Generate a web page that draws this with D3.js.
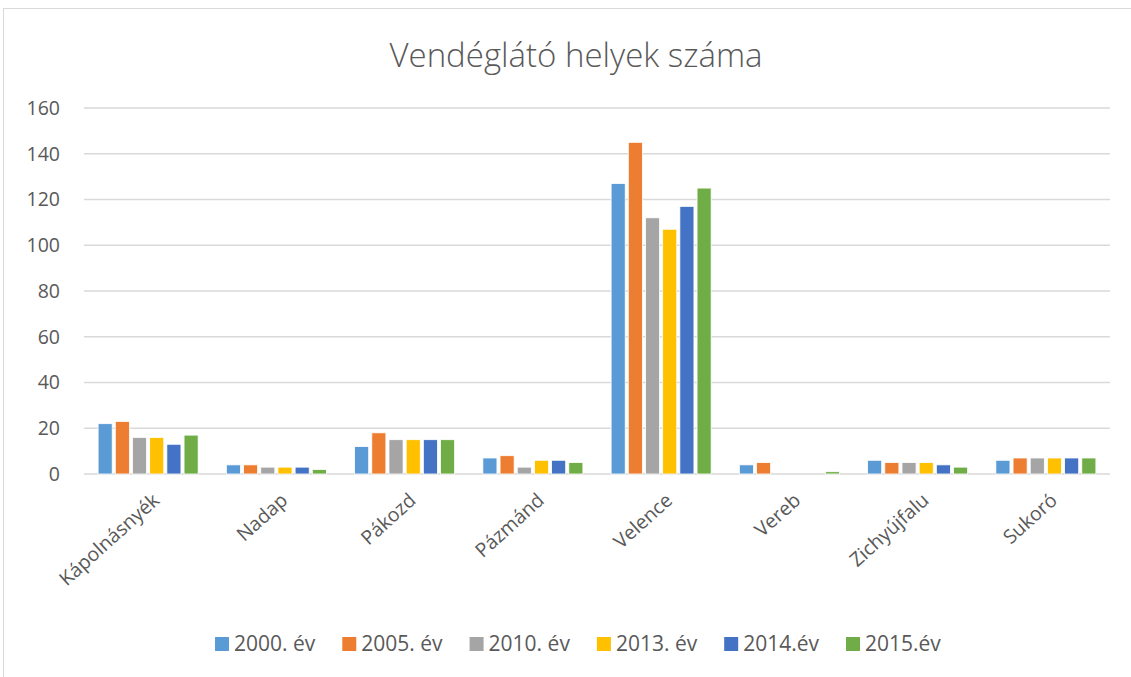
<!DOCTYPE html>
<html><head><meta charset="utf-8">
<script src="https://cdn.jsdelivr.net/npm/d3@7"></script>
<style>body{margin:0;background:#fff;}svg{display:block;font-family:"Open Sans","Liberation Sans",sans-serif;}</style>
</head><body>
<svg id="c" width="1131" height="677"></svg>
<script>
const categories = ["Kápolnásnyék","Nadap","Pákozd","Pázmánd","Velence","Vereb","Zichyújfalu","Sukoró"];
const seriesNames = ["2000. év","2005. év","2010. év","2013. év","2014.év","2015.év"];
const colors = ["#5b9bd5","#ed7d31","#a5a5a5","#ffc000","#4472c4","#70ad47"];
const v2000 = [22,4,12,7,127,4,6,6];
const v2005 = [23,4,18,8,145,5,5,7];
const v2010 = [16,3,15,3,112,0,5,7];
const v2013 = [16,3,15,6,107,0,5,7];
const v2014 = [13,3,15,6,117,0,4,7];
const v2015 = [17,2,15,5,125,1,3,7];
const seriesValues = [v2000,v2005,v2010,v2013,v2014,v2015];
const yTicks = [0,20,40,60,80,100,120,140,160];

(function(){
const svg = d3.select("#c");
svg.append("rect").attr("x",3.5).attr("y",8.5).attr("width",1140).attr("height",700)
  .attr("fill","#fff").attr("stroke","#d9d9d9");

const pLeft=84,pRight=1110,pTop=108,pBottom=474;
const x0 = d3.scaleBand().domain(categories).range([pLeft,pRight]).paddingInner(0.22).paddingOuter(0.11);
const x1 = d3.scaleBand().domain(seriesNames).range([0,x0.bandwidth()]).paddingInner(0.18);
const y = d3.scaleLinear().domain([0,160]).range([pBottom,pTop]);

svg.append("text").attr("x",576).attr("y",67).attr("text-anchor","middle")
  .attr("font-size",33).attr("font-weight",300).attr("fill","#595959").text("Vendéglátó helyek száma");

const grid = svg.append("g");
yTicks.forEach(t=>{
  grid.append("line").attr("x1",pLeft).attr("x2",pRight).attr("y1",y(t)).attr("y2",y(t))
    .attr("stroke","#d9d9d9").attr("stroke-width",1.5);
});
const yAxis = d3.axisLeft(y).tickValues(yTicks).tickSize(0).tickPadding(24);
const ga = svg.append("g").attr("transform",`translate(${pLeft},0)`).call(yAxis);
ga.select(".domain").remove();
ga.selectAll("text").attr("font-size",19.5).attr("fill","#595959").attr("font-family","'Open Sans',sans-serif");

const groups = svg.append("g").selectAll("g").data(categories).join("g")
  .attr("transform",d=>`translate(${x0(d)},0)`);
groups.selectAll("rect").data((c,i)=>seriesNames.map((s,j)=>({s,j,v:seriesValues[j][i]}))).join("rect")
  .attr("x",d=>x1(d.s)).attr("width",x1.bandwidth())
  .attr("y",d=>y(d.v)).attr("height",d=>y(0)-y(d.v))
  .attr("fill",d=>colors[d.j]).attr("stroke","#fff").attr("stroke-width",0.8);

const xAxis = d3.axisBottom(x0).tickSize(0).tickPadding(0);
const gx = svg.append("g").attr("transform",`translate(0,${pBottom})`).call(xAxis);
gx.select(".domain").remove();
gx.selectAll("text").attr("font-size",19.5).attr("fill","#595959").attr("font-family","'Open Sans',sans-serif")
  .attr("text-anchor","end").attr("dy","0.35em")
  .attr("transform","translate(8,23) rotate(-42)");

const leg = svg.append("g");
let lx = 215;
seriesNames.forEach((s,i)=>{
  const g = leg.append("g").attr("transform",`translate(${lx},644)`);
  g.append("rect").attr("x",0).attr("y",-7).attr("width",14).attr("height",14).attr("fill",colors[i]);
  const t = g.append("text").attr("x",19).attr("y",0).attr("dy","0.35em").attr("font-size",21).attr("fill","#595959").text(s);
  lx += 19 + t.node().getComputedTextLength() + 27;
});
})();
</script>
</body></html>
